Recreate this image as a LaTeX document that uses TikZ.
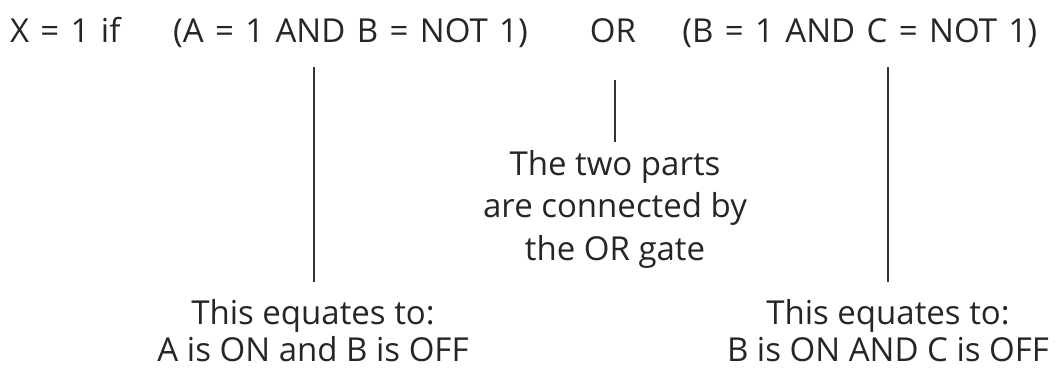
\documentclass[tikz,border=0pt]{standalone}
\usepackage{fontspec}
\setmainfont{Open Sans}
\newcommand\mywidespaces{\spaceskip=11.4pt\relax}
\begin{document}
\begin{tikzpicture}[x=1pt,y=-1pt,
  lbl/.style={inner sep=0pt, outer sep=0pt, text=black!85, font=\fontsize{33}{39}\selectfont},
  toplbl/.style={lbl, font=\fontsize{33}{39}\selectfont\mywidespaces},
  mlbl/.style={lbl, align=center, font=\fontsize{33}{42.5}\selectfont},
  blbl/.style={lbl, align=center, font=\fontsize{33}{37.5}\selectfont},
  conn/.style={draw=black!80, line width=1.2pt}]
\useasboundingbox (0,0) rectangle (1058,369);
\node[toplbl, anchor=base west] (x) at (10,43) {X = 1 if};
\node[toplbl, anchor=base west] (pa) at (173,43) {(A = 1 AND B = NOT 1)};
\node[toplbl, anchor=base] (or) at (613,43) {OR};
\node[toplbl, anchor=base east] (pb) at (1037,43) {(B = 1 AND C = NOT 1)};
\node[mlbl, anchor=north] (mid) at (615,150) {The two parts\\are connected by\\the OR gate};
\node[blbl, anchor=north] (left) at (313,299) {This equates to:\\A is ON and B is OFF};
\node[blbl, anchor=north] (right) at (888,299) {This equates to:\\B is ON AND C is OFF};
\coordinate (a1) at (314,67);
\coordinate (a2) at (314,282);
\coordinate (b1) at (615,80);
\coordinate (b2) at (615,142);
\coordinate (c1) at (888,67);
\coordinate (c2) at (888,282);
\draw[conn] (a1) -- (a2);
\draw[conn] (b1) -- (b2);
\draw[conn] (c1) -- (c2);
\end{tikzpicture}
\end{document}
